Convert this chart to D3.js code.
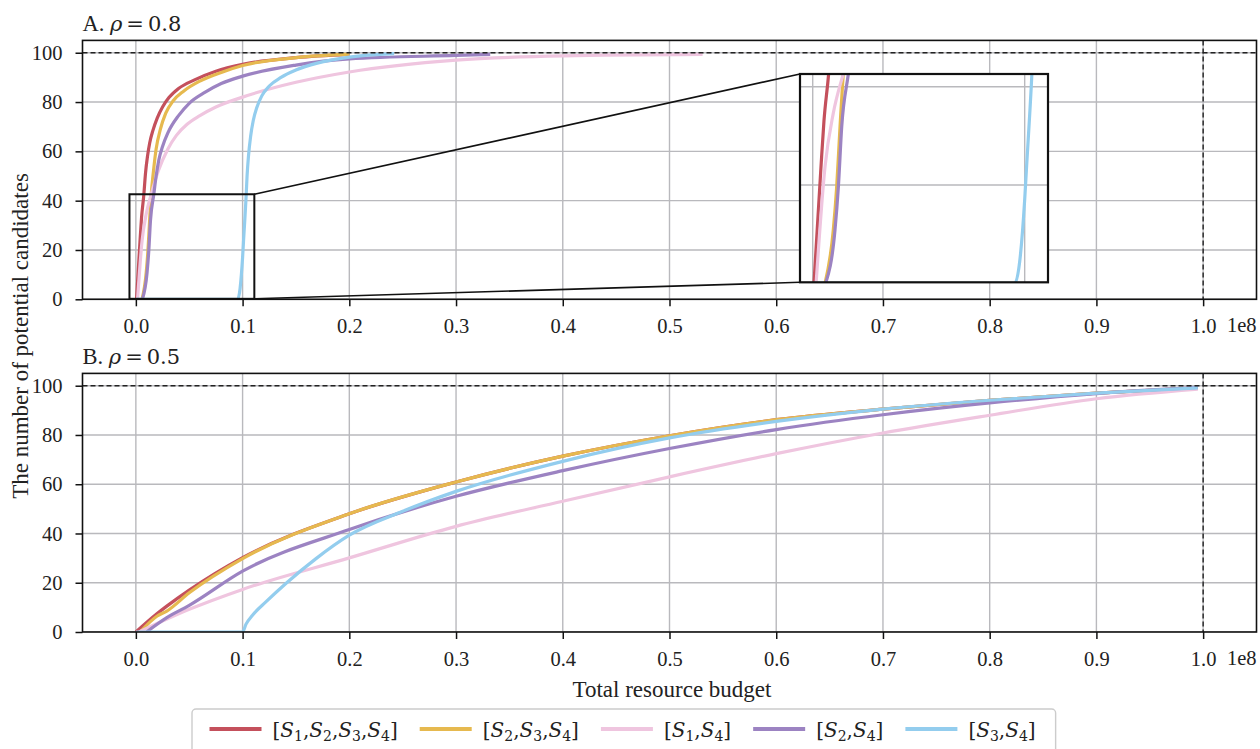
<!DOCTYPE html>
<html>
<head>
<meta charset="utf-8">
<script src="https://cdn.jsdelivr.net/npm/d3@7/dist/d3.min.js"></script>
<style>
  body { margin: 0; background: #fff; }
  svg { font-family: "Liberation Serif", "DejaVu Serif", serif; }
</style>
</head>
<body>
<svg id="chart" width="1260" height="749"></svg>
<script>
// budgets are in units of 1e8
const xTicks = [0, 0.1, 0.2, 0.3, 0.4, 0.5, 0.6, 0.7, 0.8, 0.9, 1.0];
const xTickLabels = ["0.0", "0.1", "0.2", "0.3", "0.4", "0.5", "0.6", "0.7", "0.8", "0.9", "1.0"];
const yTicks = [0, 20, 40, 60, 80, 100];

const seriesSubs = [["1", "2", "3", "4"], ["2", "3", "4"], ["1", "4"], ["2", "4"], ["3", "4"]];
const seriesColors = ["#c4505c", "#e6b94f", "#efc5df", "#9c83c2", "#93cdee"];

// A. rho = 0.8
const a_S1234 = [[0.0006, 0], [0.0038, 23], [0.0053, 33], [0.0075, 42.6], [0.009, 51], [0.0109, 58], [0.013, 63.5], [0.016, 68.5], [0.02, 73.5], [0.025, 78], [0.031, 81.8], [0.04, 85.5], [0.055, 89], [0.075, 92.5], [0.1, 95.3], [0.15, 98], [0.2, 99.3]];
const a_S234 = [[0.0058, 0], [0.0097, 10.8], [0.0113, 19.6], [0.0129, 32], [0.0144, 42.6], [0.0165, 52], [0.019, 61], [0.023, 69], [0.028, 75.5], [0.035, 80.5], [0.045, 84.5], [0.06, 88.5], [0.08, 92], [0.1, 94.8], [0.15, 98], [0.2, 99.4]];
const a_S14 = [[0.0016, 0], [0.0058, 23.7], [0.0097, 34.6], [0.0144, 42.6], [0.021, 52], [0.03, 61], [0.038, 66.5], [0.048, 71], [0.06, 74.5], [0.075, 78], [0.1, 82], [0.15, 88], [0.2, 92.2], [0.3, 97], [0.4, 98.7], [0.531, 99.3]];
const a_S24 = [[0.0061, 0], [0.0105, 10.8], [0.0121, 19.6], [0.0137, 32], [0.0168, 42.6], [0.019, 50], [0.0215, 56.5], [0.025, 62], [0.03, 67.5], [0.04, 74.5], [0.05, 79.5], [0.065, 84], [0.08, 87.5], [0.1, 90.5], [0.15, 95], [0.2, 97.5], [0.3, 98.9], [0.332, 99.3]];
const a_S34 = [[0, 0], [0.0953, 0], [0.1, 17], [0.1008, 23], [0.1034, 42.6], [0.1042, 50], [0.1055, 58], [0.1075, 66], [0.11, 72.5], [0.1135, 78], [0.118, 82.5], [0.125, 86.5], [0.136, 90], [0.15, 93], [0.17, 95.8], [0.2, 98.2], [0.242, 99.6]];

// B. rho = 0.5
const b_S1234 = [[0, 0], [0.02, 7.5], [0.029, 10.5], [0.05, 17], [0.1, 30.2], [0.2, 48], [0.3, 60.9], [0.4, 71.4], [0.5, 79.7], [0.6, 86.2], [0.7, 90.5], [0.8, 94.1], [0.9, 97], [0.995, 99.1]];
const b_S234 = [[0.004, 0], [0.02, 6.5], [0.029, 8.5], [0.05, 15.9], [0.1, 29.8], [0.2, 48], [0.3, 60.9], [0.4, 71.4], [0.5, 79.7], [0.6, 86.2], [0.7, 90.5], [0.8, 94.1], [0.9, 97], [0.995, 99.1]];
const b_S14 = [[0.003, 0], [0.05, 9.2], [0.1, 17.3], [0.2, 30.1], [0.3, 42.9], [0.4, 53.1], [0.5, 63], [0.6, 72.4], [0.7, 80.8], [0.8, 88], [0.9, 94.7], [0.995, 98.6]];
const b_S24 = [[0.01, 0], [0.029, 5.8], [0.05, 10.8], [0.1, 24.7], [0.2, 41.6], [0.3, 55.1], [0.4, 65.5], [0.5, 74.5], [0.6, 82.2], [0.7, 88.2], [0.8, 93], [0.9, 96.8], [0.995, 99.3]];
const b_S34 = [[0, 0], [0.1, 0], [0.1031, 3.1], [0.1093, 6.8], [0.1218, 12.2], [0.1408, 19.8], [0.1688, 29.8], [0.2, 39.3], [0.25, 49], [0.3, 57.1], [0.4, 69.3], [0.5, 78.8], [0.6, 85.5], [0.7, 90.5], [0.8, 94.1], [0.9, 97], [0.995, 99.1]];

const panelA = [a_S1234, a_S234, a_S14, a_S24, a_S34];
const panelB = [b_S1234, b_S234, b_S14, b_S24, b_S34];

// zoomed window of panel A
const insetXDomain = [-0.006, 0.111];
const insetYDomain = [0.2, 42.6];
const insetXTicks = [0, 0.1];
const insetYTicks = [20, 40];

const svg = d3.select("#chart");
const gridColor = "#b9b9bd";
const lineW = 3.2;
const serif = "'Liberation Serif', serif";
const mathFont = "'DejaVu Serif', serif";

const x = d3.scaleLinear().domain([-0.05, 1.05]).range([82.5, 1256.5]);

function drawLines(g, y, xs, data) {
  const line = d3.line()
    .x(d => xs(d[0]))
    .y(d => y(d[1]))
    .curve(d3.curveMonotoneX);
  g.selectAll(".curve")
    .data(data)
    .join("path")
    .attr("class", "curve")
    .attr("fill", "none")
    .attr("stroke", (d, i) => seriesColors[i])
    .attr("stroke-width", lineW)
    .attr("stroke-linejoin", "round")
    .attr("d", d => line(d));
}

function panel(id, top, bottom, letter, rho, data) {
  const y = d3.scaleLinear().domain([0, 105]).range([bottom, top]);
  const [x0, x1] = x.range();

  svg.append("clipPath").attr("id", "clip" + id)
    .append("rect").attr("x", x0).attr("y", top).attr("width", x1 - x0).attr("height", bottom - top);

  const g = svg.append("g");
  const inner = g.append("g").attr("clip-path", `url(#clip${id})`);

  // grid
  inner.selectAll(".gx").data(xTicks).join("line")
    .attr("x1", d => x(d)).attr("x2", d => x(d))
    .attr("y1", top).attr("y2", bottom)
    .attr("stroke", gridColor).attr("stroke-width", 1.4);
  inner.selectAll(".gy").data(yTicks).join("line")
    .attr("x1", x0).attr("x2", x1)
    .attr("y1", d => y(d)).attr("y2", d => y(d))
    .attr("stroke", gridColor).attr("stroke-width", 1.4);

  drawLines(inner, y, x, data);

  // reference lines
  inner.append("line")
    .attr("x1", x0).attr("x2", x1).attr("y1", y(100)).attr("y2", y(100))
    .attr("stroke", "#222").attr("stroke-width", 1.4).attr("stroke-dasharray", "5,3");
  inner.append("line")
    .attr("x1", x(1)).attr("x2", x(1)).attr("y1", top).attr("y2", bottom)
    .attr("stroke", "#222").attr("stroke-width", 1.4).attr("stroke-dasharray", "5,3");

  // axes
  const ax = g.append("g")
    .attr("transform", `translate(0,${bottom})`)
    .call(d3.axisBottom(x).tickValues(xTicks).tickSize(7).tickPadding(12)
      .tickFormat((d, i) => xTickLabels[i]));
  const ay = g.append("g")
    .attr("transform", `translate(${x0},0)`)
    .call(d3.axisLeft(y).tickValues(yTicks).tickSize(7).tickPadding(13));
  [ax, ay].forEach(a => {
    a.attr("font-family", serif).attr("font-size", 20.5);
    a.select(".domain").remove();
    a.selectAll("line").attr("stroke", "#111").attr("stroke-width", 1.5);
    a.selectAll("text").attr("fill", "#222");
  });

  g.append("text")
    .attr("x", x1).attr("y", bottom + 33)
    .attr("text-anchor", "end")
    .attr("fill", "#222").attr("font-size", 20.5)
    .text("1e8");

  // spines
  g.append("rect")
    .attr("x", x0).attr("y", top).attr("width", x1 - x0).attr("height", bottom - top)
    .attr("fill", "none").attr("stroke", "#111").attr("stroke-width", 1.6);

  // title
  const t = g.append("text")
    .attr("x", x0).attr("y", top - 9)
    .attr("fill", "#222").attr("font-size", 22.5);
  t.append("tspan").text(letter + ". ");
  t.append("tspan").attr("font-family", mathFont).attr("font-size", 21).style("font-style", "italic").text("\u03c1");
  t.append("tspan").attr("dx", 4).attr("font-family", mathFont).attr("font-size", 21).text("=");
  t.append("tspan").attr("dx", 4).attr("font-family", mathFont).attr("font-size", 21).text(rho);

  return { g, y };
}

const A = panel("A", 40.4, 299.3, "A", "0.8", panelA);
const B = panel("B", 373.4, 632, "B", "0.5", panelB);

// zoom inset on panel A
const xi = d3.scaleLinear().domain(insetXDomain).range([800, 1048]);
const yi = d3.scaleLinear().domain(insetYDomain).range([282.3, 74]);
const yA = A.y;

const rx0 = x(insetXDomain[0]), rx1 = x(insetXDomain[1]);
const ry0 = yA(insetYDomain[1]), ry1 = yA(insetYDomain[0]);

A.g.append("rect")
  .attr("x", rx0).attr("y", ry0).attr("width", rx1 - rx0).attr("height", ry1 - ry0)
  .attr("fill", "none").attr("stroke", "#111").attr("stroke-width", 2);
A.g.append("line")
  .attr("x1", rx1).attr("y1", ry0).attr("x2", xi.range()[0]).attr("y2", yi.range()[1])
  .attr("stroke", "#111").attr("stroke-width", 1.6);
A.g.append("line")
  .attr("x1", rx1).attr("y1", ry1).attr("x2", xi.range()[0]).attr("y2", yi.range()[0])
  .attr("stroke", "#111").attr("stroke-width", 1.6);

const ins = A.g.append("g");
const [ix0, ix1] = xi.range();
const [iy1, iy0] = yi.range();
svg.append("clipPath").attr("id", "clipInset")
  .append("rect").attr("x", ix0).attr("y", iy0).attr("width", ix1 - ix0).attr("height", iy1 - iy0);
ins.append("rect")
  .attr("x", ix0).attr("y", iy0).attr("width", ix1 - ix0).attr("height", iy1 - iy0)
  .attr("fill", "#fff");
const insIn = ins.append("g").attr("clip-path", "url(#clipInset)");
insIn.selectAll(".gx").data(insetXTicks).join("line")
  .attr("x1", d => xi(d)).attr("x2", d => xi(d)).attr("y1", iy0).attr("y2", iy1)
  .attr("stroke", gridColor).attr("stroke-width", 1.4);
insIn.selectAll(".gy").data(insetYTicks).join("line")
  .attr("x1", ix0).attr("x2", ix1).attr("y1", d => yi(d)).attr("y2", d => yi(d))
  .attr("stroke", gridColor).attr("stroke-width", 1.4);
drawLines(insIn, yi, xi, panelA);
ins.append("rect")
  .attr("x", ix0).attr("y", iy0).attr("width", ix1 - ix0).attr("height", iy1 - iy0)
  .attr("fill", "none").attr("stroke", "#111").attr("stroke-width", 2.2);

// axis labels
svg.append("text")
  .attr("x", 672).attr("y", 697)
  .attr("text-anchor", "middle").attr("fill", "#222").attr("font-size", 23)
  .text("Total resource budget");
svg.append("text")
  .attr("transform", "translate(28,336) rotate(-90)")
  .attr("text-anchor", "middle").attr("fill", "#222").attr("font-size", 23)
  .text("The number of potential candidates");

// legend
const leg = svg.append("g");
const legFrame = leg.append("rect");
let cx = 209.5;
const legY = 729;
seriesSubs.forEach((subs, i) => {
  leg.append("line")
    .attr("x1", cx).attr("x2", cx + 52).attr("y1", legY).attr("y2", legY)
    .attr("stroke", seriesColors[i]).attr("stroke-width", 3.8);
  const t = leg.append("text")
    .attr("x", cx + 63).attr("y", legY + 8)
    .attr("font-family", mathFont)
    .attr("fill", "#222").attr("font-size", 20);
  t.append("tspan").text("[");
  subs.forEach((s, j) => {
    t.append("tspan").style("font-style", "italic").text("S");
    t.append("tspan").attr("dy", 4).attr("font-size", 14).text(s);
    t.append("tspan").attr("dy", -4).text(j < subs.length - 1 ? "," : "]");
  });
  cx = cx + 63 + t.node().getComputedTextLength() + 22;
});
legFrame
  .attr("x", 192).attr("y", 709).attr("width", cx - 2 - 192).attr("height", 48)
  .attr("rx", 4).attr("fill", "#fff").attr("stroke", "#cccccc").attr("stroke-width", 1.4);
</script>
</body>
</html>
